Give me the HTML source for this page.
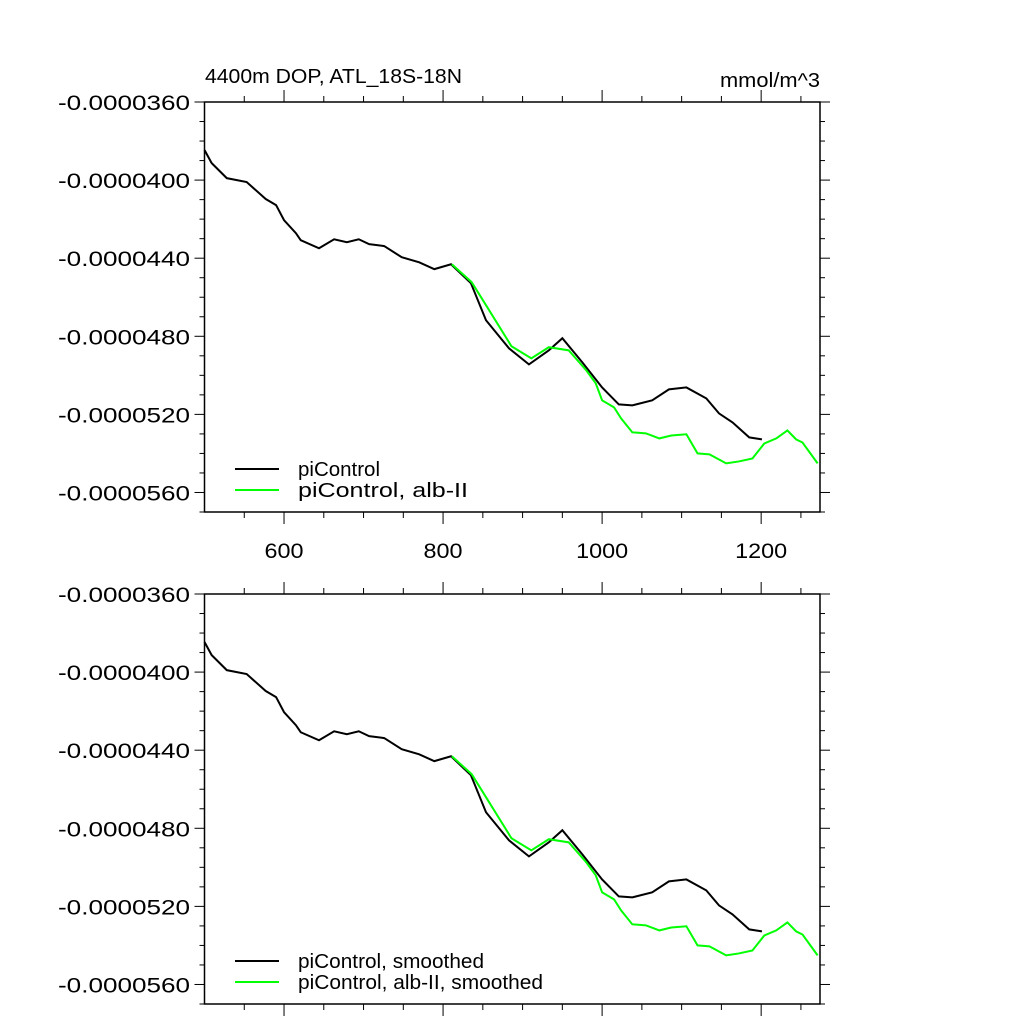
<!DOCTYPE html>
<html><head><meta charset="utf-8"><style>
html,body{margin:0;padding:0;background:#fff;}
svg{display:block;font-family:"Liberation Sans",sans-serif;}
</style></head><body>
<svg id="c" width="1024" height="1024" viewBox="0 0 1024 1024"></svg>
<script>
const ctrlYears = [500,509,528,553,577,590,600,615,621,644,663,679,694,707,726,748,770,789,810,835,854,883,908,933,950,975,1000,1021,1038,1063,1084,1106,1131,1147,1164,1185,1201];
const ctrlVals = [-38.46,-39.13,-39.90,-40.10,-40.97,-41.28,-42.05,-42.72,-43.08,-43.49,-43.03,-43.18,-43.03,-43.28,-43.38,-43.95,-44.21,-44.56,-44.31,-45.28,-47.18,-48.62,-49.44,-48.72,-48.10,-49.33,-50.62,-51.49,-51.54,-51.28,-50.72,-50.62,-51.18,-51.95,-52.41,-53.18,-53.28];
const albYears = [811,836,858,886,911,933,958,980,992,1000,1015,1024,1038,1055,1072,1087,1106,1120,1135,1156,1172,1189,1204,1219,1233,1244,1252,1271];
const albVals = [-44.31,-45.23,-46.67,-48.51,-49.13,-48.56,-48.72,-49.74,-50.41,-51.28,-51.64,-52.21,-52.92,-52.97,-53.23,-53.08,-53.02,-54.00,-54.05,-54.51,-54.41,-54.26,-53.49,-53.23,-52.82,-53.28,-53.44,-54.51];
const yTickVals = [-36,-40,-44,-48,-52,-56];
const yTickLabels = ["-0.0000360","-0.0000400","-0.0000440","-0.0000480","-0.0000520","-0.0000560"];
const xTickVals = [600,800,1000,1200];
const xTickLabels = ["600","800","1000","1200"];

const svg = document.getElementById('c');
const NS = 'http://www.w3.org/2000/svg';
function mk(tag, attrs, parent){const e=document.createElementNS(NS,tag);for(const k in attrs)e.setAttribute(k,attrs[k]);(parent||svg).appendChild(e);return e;}
const X0=204.5, X1=820, XMIN=500, XMAX=1274;
const sx = v => X0 + (v-XMIN)/(XMAX-XMIN)*(X1-X0);

function panel(top, name, showXLabels, leg1, leg2, w1, w2){
  const bot = top+410;
  const sy = v => top + (-36 - v)/21*410;
  const g = mk('g',{});
  
  
  for(let v=-36; v>=-57; v--){
    const maj = yTickVals.includes(v);
    const L = maj?10:5;
    mk('line',{x1:X0-L,x2:X0,y1:sy(v),y2:sy(v),stroke:'#000','stroke-width':1},g);
    mk('line',{x1:X1,x2:X1+L,y1:sy(v),y2:sy(v),stroke:'#000','stroke-width':1},g);
  }
  for(let v=550; v<=1250; v+=50){
    const maj = xTickVals.includes(v);
    const L = maj?12:6;
    mk('line',{x1:sx(v),x2:sx(v),y1:bot,y2:bot+L,stroke:'#000','stroke-width':1},g);
    mk('line',{x1:sx(v),x2:sx(v),y1:top-L,y2:top,stroke:'#000','stroke-width':1},g);
  }
  yTickVals.forEach((v,i)=>{
    const t=mk('text',{x:58,y:sy(v)+8,'font-size':21,textLength:132,lengthAdjust:'spacingAndGlyphs'},g);
    t.textContent=yTickLabels[i];
    
    
  });
  if(showXLabels){
    xTickVals.forEach((v,i)=>{
      const w = xTickLabels[i].length*13;
      const t=mk('text',{x:sx(v)-w/2,y:bot+46,'font-size':21,textLength:w,lengthAdjust:'spacingAndGlyphs'},g);
      t.textContent=xTickLabels[i];
      
      
    });
  }
  const pc = mk('polyline',{points:ctrlYears.map((y,i)=>sx(y)+','+sy(ctrlVals[i])).join(' '),fill:'none',stroke:'#000','stroke-width':2},g);
  
  
  const pa = mk('polyline',{points:albYears.map((y,i)=>sx(y)+','+sy(albVals[i])).join(' '),fill:'none',stroke:'#00ff00','stroke-width':2},g);
  
  
  const box = mk('rect',{x:X0,y:top,width:X1-X0,height:bot-top,fill:'none',stroke:'#000','stroke-width':1.5},g);
  
  
  const lg = mk('g',{},g);
  
  
  mk('line',{x1:235,x2:279,y1:top+367,y2:top+367,stroke:'#000','stroke-width':2},lg);
  mk('line',{x1:235,x2:279,y1:top+388,y2:top+388,stroke:'#00ff00','stroke-width':2},lg);
  const t1=mk('text',{x:298,y:top+374,'font-size':20,textLength:w1,lengthAdjust:'spacingAndGlyphs'},lg); t1.textContent=leg1;
  
  
  const t2=mk('text',{x:298,y:top+395,'font-size':20,textLength:w2,lengthAdjust:'spacingAndGlyphs'},lg); t2.textContent=leg2;
  
  
}
panel(102,'top-panel',true,'piControl','piControl, alb-II',82,170);
panel(594,'bottom-panel',false,'piControl, smoothed','piControl, alb-II, smoothed',186,245);
const tt=mk('text',{x:205,y:83,'font-size':20,textLength:257,lengthAdjust:'spacingAndGlyphs'}); tt.textContent='4400m DOP, ATL_18S-18N';


const tu=mk('text',{x:720,y:87,'font-size':20,textLength:100,lengthAdjust:'spacingAndGlyphs'}); tu.textContent='mmol/m^3';


</script>
</body></html>
